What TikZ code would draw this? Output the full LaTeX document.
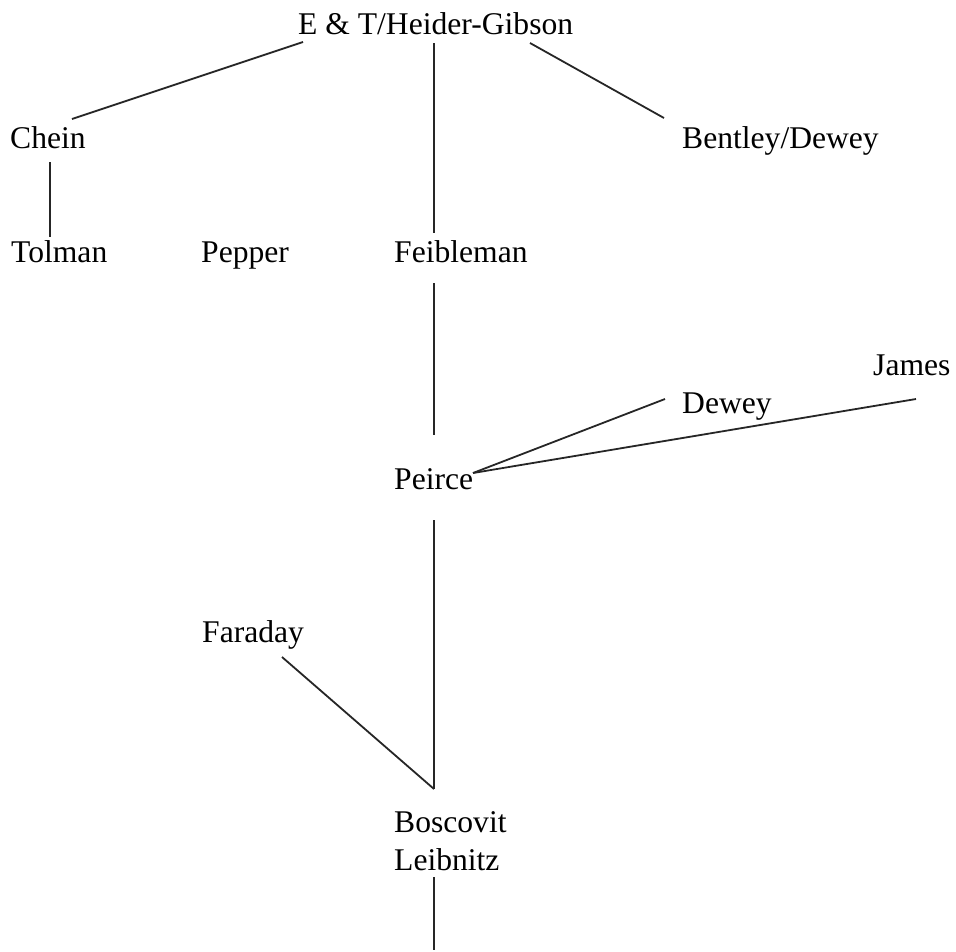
\documentclass[tikz,border=0pt]{standalone}
\usepackage{fontspec}
\setmainfont{Liberation Serif}
\begin{document}
\begin{tikzpicture}[x=1pt,y=-1pt,
  lbl/.style={anchor=base west,inner sep=0pt,font=\fontsize{31.6}{38}\selectfont},
  conn/.style={draw=black!85,line width=1.8pt}]
\useasboundingbox (0,0) rectangle (956,951);
% labels
\node[lbl] (hg) at (298,34) {E \& T/Heider-Gibson};
\node[lbl] (chein) at (10,148) {Chein};
\node[lbl] (bentley) at (682,148) {Bentley/Dewey};
\node[lbl] (tolman) at (11,262) {Tolman};
\node[lbl] (pepper) at (201,262) {Pepper};
\node[lbl] (feib) at (394,262) {Feibleman};
\node[lbl] (james) at (873,375) {James};
\node[lbl] (dewey) at (682,413) {Dewey};
\node[lbl] (peirce) at (394,489) {Peirce};
\node[lbl] (faraday) at (202,642) {Faraday};
\node[lbl] (bosc) at (394,832) {Boscovit};
\node[lbl] (leib) at (394,870) {Leibnitz};
% connector ends
\coordinate (hgL) at (303,42);
\coordinate (hgM) at (434,43);
\coordinate (hgR) at (530,43);
\coordinate (cheinT) at (72,119);
\coordinate (cheinB) at (50,162);
\coordinate (bentT) at (664,118);
\coordinate (tolT) at (50,237);
\coordinate (feibT) at (434,233);
\coordinate (feibB) at (434,283);
\coordinate (peirT) at (434,435);
\coordinate (peirR) at (473,473);
\coordinate (peirB) at (434,520);
\coordinate (deweyL) at (665,399);
\coordinate (jamesL) at (916,399);
\coordinate (faraB) at (282,657);
\coordinate (boscT) at (434,789);
\coordinate (leibB) at (434,877);
\coordinate (bottom) at (434,950);
% connectors
\draw[conn] (hgL) -- (cheinT);
\draw[conn] (hgM) -- (feibT);
\draw[conn] (hgR) -- (bentT);
\draw[conn] (cheinB) -- (tolT);
\draw[conn] (feibB) -- (peirT);
\draw[conn] (peirR) -- (deweyL);
\draw[conn] (peirR) -- (jamesL);
\draw[conn] (peirB) -- (boscT);
\draw[conn] (faraB) -- (boscT);
\draw[conn] (leibB) -- (bottom);
\end{tikzpicture}
\end{document}
